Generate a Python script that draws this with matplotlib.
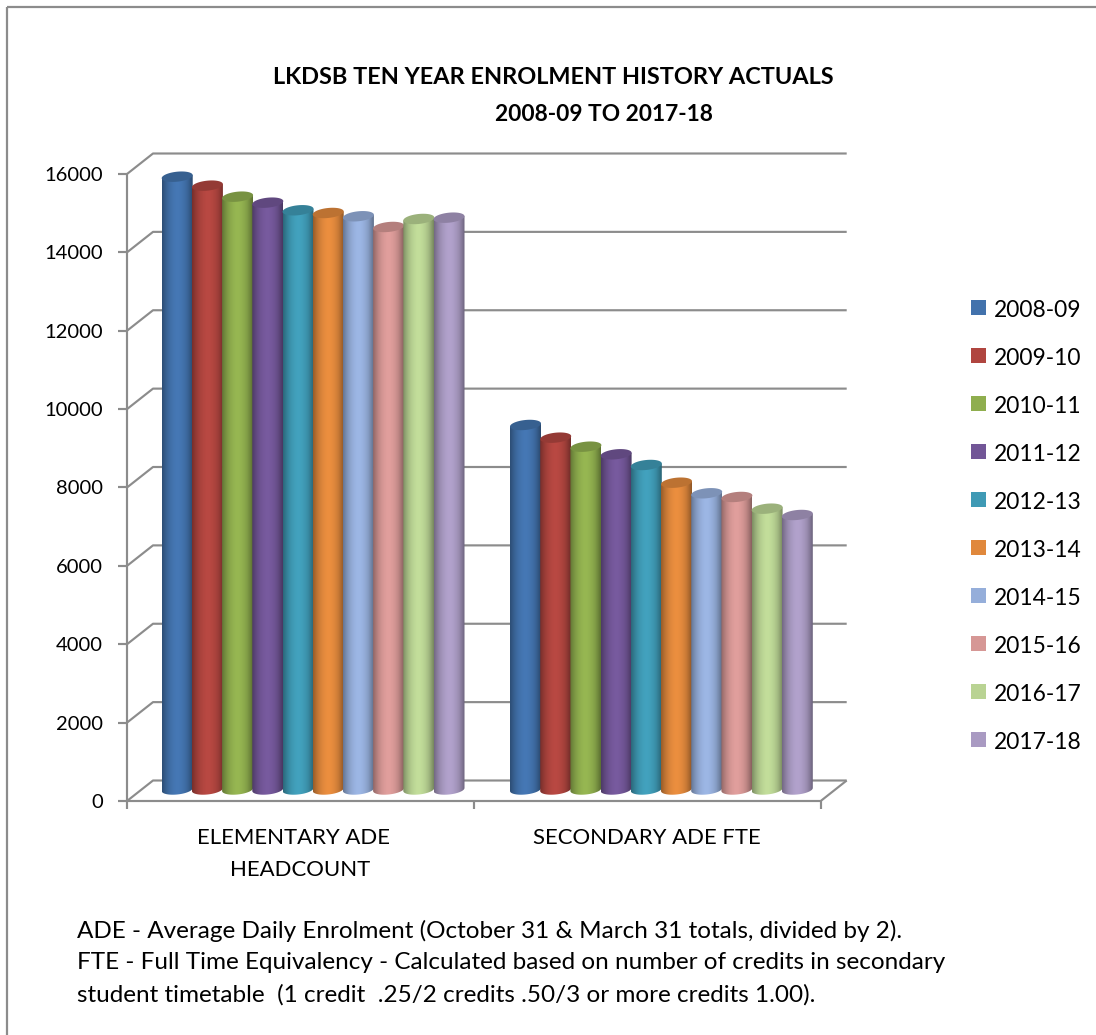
import matplotlib
matplotlib.use('Agg')
import matplotlib.pyplot as plt
import numpy as np
from matplotlib.colors import to_rgb
from matplotlib.patches import PathPatch, Polygon
from matplotlib.path import Path

plt.rcParams['font.family'] = ['Lato', 'DejaVu Sans']

# data
years = ['2008-09', '2009-10', '2010-11', '2011-12', '2012-13',
         '2013-14', '2014-15', '2015-16', '2016-17', '2017-18']
categories = [['ELEMENTARY ADE', 'HEADCOUNT'], ['SECONDARY ADE FTE']]
elementary = [15670, 15441, 15160, 15007, 14813, 14744, 14660, 14387, 14591, 14624]
secondary = [9334, 9010, 8780, 8586, 8313, 7861, 7591, 7497, 7198, 7037]
colors = ['#4272AC', '#B0453F', '#8FAE4E', '#725697', '#3F9AB5',
          '#E0883C', '#95AEDA', '#D69795', '#B9D393', '#A99AC2']
y_ticks = [0, 2000, 4000, 6000, 8000, 10000, 12000, 14000, 16000]
title = ['LKDSB TEN YEAR ENROLMENT HISTORY ACTUALS', '2008-09 TO 2017-18']
notes = ['ADE - Average Daily Enrolment (October 31 & March 31 totals, divided by 2).',
         'FTE - Full Time Equivalency - Calculated based on number of credits in secondary',
         'student timetable  (1 credit  .25/2 credits .50/3 or more credits 1.00).']

W, H = 1096, 1035
GRID = '#8C8C8C'

# pixel layout of the front plane of the 3d box
LEFT, RIGHT, BOTTOM, TOP = 127, 820.7, 801, 174
DX_PX, DY_PX = 26, 20.5
CAT_PX = (RIGHT - LEFT) / 2
VAL_PX = (BOTTOM - TOP) / 16000

fig = plt.figure(figsize=(W / 100, H / 100), dpi=100)
ax = fig.add_axes([LEFT / W, 1 - BOTTOM / H, (RIGHT + DX_PX + 4 - LEFT) / W, (BOTTOM - TOP + DY_PX + 4) / H])
x_lim = (0, (RIGHT + DX_PX + 4 - LEFT) / CAT_PX)
y_lim = (0, (BOTTOM - TOP + DY_PX + 4) / VAL_PX)
ax.patch.set_alpha(0)
for s in ax.spines.values():
    s.set_visible(False)
ax.set_xticks([])
ax.set_yticks([])

dx = DX_PX / CAT_PX
dy = DY_PX / VAL_PX
line = dict(color=GRID, lw=1.55, solid_capstyle='butt', clip_on=False, zorder=1)

# walls
for v in y_ticks:
    ax.plot([0, dx, 2 + dx], [v, v + dy, v + dy], **line)
ax.plot([0, 0], [0, 16000], **line)
ax.plot([0, 2, 2 + dx], [0, 0, dy], **line)
# tick marks
for v in y_ticks:
    ax.plot([-9 / CAT_PX, 0], [v, v], **line)
    ax.text(-24 / CAT_PX, v - 1.5 / VAL_PX, str(v), ha='right', va='center', fontsize=14.5, color='black')
for c in [0, 1, 2]:
    ax.plot([c, c], [0, -8 / VAL_PX], **line)

# the wrapped first line carries a trailing space in the original, so it sits left of centre
cat_font = 15.9
ax.text(0.5 - 7 / CAT_PX, -37 / VAL_PX, categories[0][0], ha='center', va='center', fontsize=cat_font)
ax.text(0.5, -69 / VAL_PX, categories[0][1], ha='center', va='center', fontsize=cat_font)
ax.text(1.5, -37 / VAL_PX, categories[1][0], ha='center', va='center', fontsize=cat_font)

# horizontal shading across a cylinder: dark edges, light around the middle
shade = np.array([0.68, 0.8, 0.9, 0.97, 1.02, 1.05, 1.05, 1.02, 0.97, 0.9, 0.78, 0.64])
ramp = np.interp(np.linspace(0, 11, 64), np.arange(12), shade)


def cylinder(cx, value, color, z):
    half = 15.5 / CAT_PX
    ry = 5 / VAL_PX
    tilt = 1.5 / VAL_PX  # the ends lean up to the right a little
    base = 11.5 / VAL_PX
    top = value + dy / 2
    rgb = np.array(to_rgb(color))
    img = np.clip(rgb[None, None, :] * ramp[None, :, None], 0, 1)
    k = np.linspace(np.pi, 2 * np.pi, 30)
    xs = cx + half * np.cos(k)
    ys = base + ry * np.sin(k) + tilt * np.cos(k)
    verts = list(zip(xs, ys)) + [(cx + half, top + tilt), (cx - half, top - tilt), (cx - half, base - tilt)]
    path = Path(verts)
    im = ax.imshow(img, extent=[cx - half, cx + half, 0, top + tilt + ry], aspect='auto', zorder=z,
                   interpolation='bilinear')
    im.set_clip_path(PathPatch(path, transform=ax.transData))
    k = np.linspace(0, 2 * np.pi, 60)
    ax.add_patch(Polygon(np.column_stack([cx + half * np.cos(k), top + ry * np.sin(k) + tilt * np.cos(k)]),
                         facecolor=rgb * 0.84, edgecolor='none', zorder=z + 0.1))


bar_px = 30.2
for g, values in enumerate([elementary, secondary]):
    start = (177.2 - LEFT + g * 348.3) / CAT_PX
    for i, v in enumerate(values):
        cylinder(start + i * bar_px / CAT_PX, v, colors[i], 3 + i)
ax.set_xlim(*x_lim)
ax.set_ylim(*y_lim)

# legend, built by hand to get the wide spacing
for i, (label, c) in enumerate(zip(years, colors)):
    y = 1 - (307.5 + i * 48) / H
    fig.patches.append(plt.Rectangle((971 / W, y - 7.5 / H), 15 / W, 15 / H, transform=fig.transFigure,
                                     facecolor=c, edgecolor='none'))
    fig.text(994 / W, y - 3 / H, label, ha='left', va='center', fontsize=16.4)

fig.text(553.5 / W, 1 - 77.5 / H, title[0], ha='center', va='center', fontsize=16.9, fontweight='bold')
fig.text(604 / W, 1 - 114.5 / H, title[1], ha='center', va='center', fontsize=16.4, fontweight='bold')
for i, t in enumerate(notes):
    fig.text(77 / W, 1 - (931 + i * 31.8) / H, t, ha='left', va='center', fontsize=17.5)

# outer frame, only the top and left edges show
frame = dict(color='#8C8C8C', lw=1.6, transform=fig.transFigure, solid_capstyle='butt')
fig.add_artist(plt.Line2D([7 / W, 1], [1 - 7 / H, 1 - 7 / H], **frame))
fig.add_artist(plt.Line2D([7 / W, 7 / W], [1 - 7 / H, 0], **frame))

fig.savefig('out.png', dpi=100)
